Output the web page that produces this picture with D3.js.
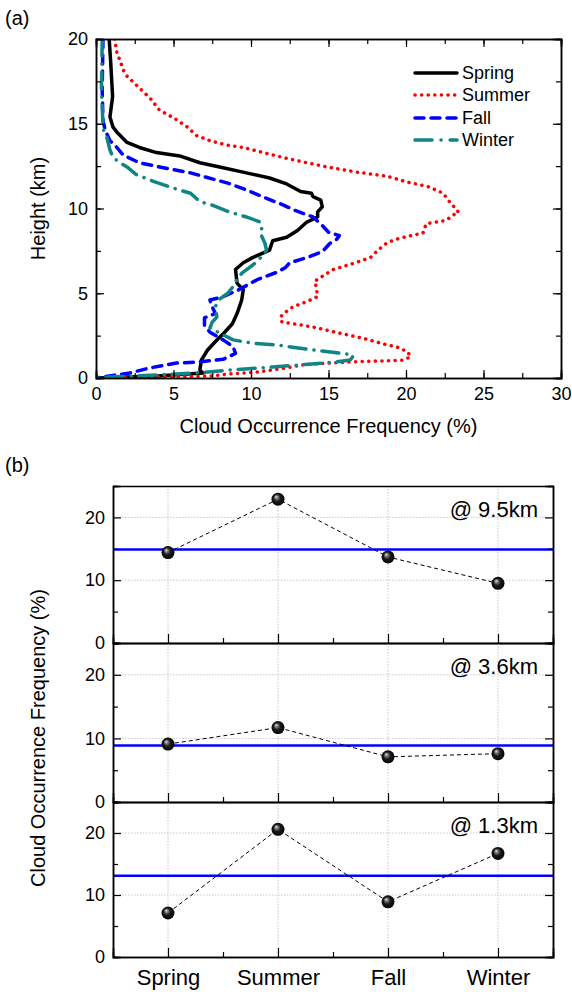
<!DOCTYPE html>
<html>
<head>
<meta charset="utf-8">
<script src="https://cdn.jsdelivr.net/npm/d3@7"></script>
<style>
  body { margin: 0; background: #fff; }
  text { font-family: "Liberation Sans", Arial, sans-serif; fill: #000; }
</style>
</head>
<body>
<svg id="svg" width="572" height="992"></svg>
<script>
// ---- panel (a): profiles, [height km, frequency %]
var spring = [[20,0.85],[18.6,0.95],[16.6,1.07],[15.4,0.9],[14.8,1.1],[14.45,1.4],[13.9,2.0],[13.6,2.8],[13.3,3.9],[13.1,5.4],[12.7,6.7],[12.4,8.2],[12.1,9.7],[11.8,11.2],[11.45,12.3],[11.0,13.2],[10.9,13.9],[10.7,14.0],[10.5,14.5],[10.1,14.6],[9.8,14.3],[9.5,14.3],[9.2,13.6],[8.7,13.0],[8.3,12.3],[8.1,11.4],[7.55,11.2],[7.1,10.1],[6.8,9.5],[6.4,9.0],[5.6,9.1],[5.2,9.5],[4.6,9.4],[3.8,9.1],[3.2,8.8],[2.7,8.3],[2.24,7.8],[1.65,7.2],[1.06,6.8],[0.47,6.7],[0.3,6.9],[0.12,4.0],[0.05,1.5],[0,0]];
var summer = [[20,1.2],[19.2,1.35],[18.6,1.6],[18.2,1.75],[17.9,1.9],[17.2,2.7],[16.5,3.5],[15.8,4.1],[15.3,5.1],[14.8,5.9],[14.3,6.5],[14.0,7.35],[13.75,8.4],[13.6,9.5],[13.3,10.8],[13.0,12.1],[12.7,13.6],[12.45,14.9],[12.15,16.8],[11.9,18.8],[11.55,20.1],[11.3,21.4],[10.9,22.4],[10.4,22.8],[9.9,23.3],[9.75,23.4],[9.6,23.0],[9.3,22.6],[9.1,21.3],[8.55,21.1],[8.25,19.6],[8.0,18.8],[7.55,18.2],[7.1,17.7],[6.7,16.4],[6.4,15.3],[6.0,14.6],[5.7,14.1],[5.4,14.2],[4.8,14.3],[4.5,13.6],[4.2,12.7],[3.8,12.1],[3.6,11.9],[3.3,12.0],[3.1,13.4],[2.95,14.3],[2.65,15.7],[2.35,17.2],[1.95,18.8],[1.83,19.4],[1.55,20.1],[1.25,20.3],[1.05,19.8],[0.95,16.5],[0.88,15.0],[0.8,13.5],[0.6,12.3],[0.35,10.4],[0.24,8.6],[0.12,7.4],[0.05,3.0],[0,0]];
var fall = [[20,0.45],[17,0.4],[15.2,0.45],[14.6,0.6],[14.0,0.9],[13.6,1.35],[13.15,1.75],[13.0,2.1],[12.7,2.8],[12.45,4.1],[12.1,6.1],[11.5,8.5],[11.1,9.7],[10.6,11.0],[10.2,12.1],[9.9,12.8],[9.5,14.0],[9.0,14.6],[8.6,15.0],[8.4,15.7],[8.15,15.5],[7.95,15.1],[7.45,14.6],[7.1,13.6],[6.8,12.5],[6.5,12.2],[6.25,11.7],[5.8,10.4],[5.2,9.2],[4.8,8.2],[4.6,7.35],[4.2,7.5],[3.8,7.7],[3.55,7.0],[3.1,7.0],[2.7,7.35],[2.25,8.2],[1.85,8.85],[1.45,9.0],[1.1,8.2],[0.95,6.7],[0.88,5.2],[0.6,3.5],[0.3,2.2],[0.05,0.3],[0,0]];
var winter = [[20,0.4],[17,0.35],[15,0.45],[14.6,0.5],[14.2,0.7],[13.45,0.9],[13.0,1.1],[12.7,1.55],[12.45,2.0],[12.0,2.6],[11.6,3.7],[11.2,5.0],[10.9,6.1],[10.4,6.7],[10.2,7.5],[9.8,8.6],[9.5,9.7],[9.2,10.6],[8.85,10.7],[8.55,10.6],[7.95,10.9],[7.55,11.0],[7.25,10.8],[6.65,10.1],[6.25,9.5],[6.0,9.2],[5.4,8.85],[5.0,8.5],[4.6,7.9],[4.2,7.7],[3.6,7.8],[3.3,7.5],[2.95,7.35],[2.55,8.2],[2.25,8.85],[2.05,10.1],[1.95,11.7],[1.8,12.8],[1.6,14.5],[1.4,16.3],[1.3,16.6],[1.06,16.4],[0.95,15.5],[0.8,13.5],[0.65,11.4],[0.47,8.6],[0.3,6.5],[0.18,3.9],[0.06,0.9],[0,0]];
var seriesNames = ["Spring", "Summer", "Fall", "Winter"];
var xTicksA = [0, 5, 10, 15, 20, 25, 30];
var yTicksA = [0, 5, 10, 15, 20];

// ---- panel (b): frequency at three heights
var seasons = ["Spring", "Summer", "Fall", "Winter"];
var levels = ["@ 9.5km", "@ 3.6km", "@ 1.3km"];
var cof95 = [14.4, 22.9, 13.7, 9.5];
var cof36 = [9.1, 11.7, 7.1, 7.6];
var cof13 = [7.1, 20.6, 8.9, 16.7];
var means = [14.9, 8.9, 13.1];
var yTicksB = [0, 10, 20];

var svg = d3.select("#svg");

var defs = svg.append("defs");
var grad = defs.append("radialGradient").attr("id", "ball")
    .attr("cx", "50%").attr("cy", "50%").attr("r", "55%")
    .attr("fx", "35%").attr("fy", "30%");
grad.append("stop").attr("offset", "0%").attr("stop-color", "#f4f4f4");
grad.append("stop").attr("offset", "18%").attr("stop-color", "#8a8a8a");
grad.append("stop").attr("offset", "50%").attr("stop-color", "#1a1a1a");
grad.append("stop").attr("offset", "100%").attr("stop-color", "#000");

// ================= (a) =================
var ax = {left: 96, right: 561, top: 39, bottom: 378};
var x = d3.scaleLinear().domain([0, 30]).range([ax.left, ax.right]);
var y = d3.scaleLinear().domain([0, 20]).range([ax.bottom, ax.top]);

svg.append("text").attr("x", 5).attr("y", 25).style("font-size", "20px").text("(a)");

var ga = svg.append("g");
ga.append("clipPath").attr("id", "clipA").append("rect")
    .attr("x", ax.left).attr("y", ax.top)
    .attr("width", ax.right - ax.left).attr("height", ax.bottom - ax.top);

var styles = [
    {color: "#000", dash: null},
    {color: "#ff0000", dash: "0.1 6.5"},
    {color: "#0000ff", dash: "9 7"},
    {color: "#0f8585", dash: "17 8 0.1 8"}
];

var line = d3.line().x(function (d) { return x(d[1]); }).y(function (d) { return y(d[0]); });

var profiles = [spring, summer, fall, winter];
ga.append("g").attr("clip-path", "url(#clipA)").selectAll("path")
    .data(profiles)
    .enter()
    .append("path")
    .attr("d", line)
    .attr("fill", "none")
    .attr("stroke", function (d, i) { return styles[i].color; })
    .attr("stroke-width", 3.5)
    .attr("stroke-linecap", "round")
    .attr("stroke-linejoin", "round")
    .attr("stroke-dasharray", function (d, i) { return styles[i].dash; });

// axes
var minorX = d3.range(0, 30.01, 2.5), minorY = d3.range(0, 20.01, 2.5);
ga.append("g").attr("transform", "translate(0," + ax.bottom + ")")
    .call(d3.axisBottom(x).tickValues(minorX).tickSize(-5).tickFormat(""));
ga.append("g").attr("transform", "translate(0," + ax.bottom + ")")
    .call(d3.axisBottom(x).tickValues(xTicksA).tickSize(-8).tickPadding(9));
ga.append("g").attr("transform", "translate(0," + ax.top + ")")
    .call(d3.axisTop(x).tickValues(minorX).tickSize(-5).tickFormat(""));
ga.append("g").attr("transform", "translate(0," + ax.top + ")")
    .call(d3.axisTop(x).tickValues(xTicksA).tickSize(-8).tickFormat(""));
ga.append("g").attr("transform", "translate(" + ax.left + ",0)")
    .call(d3.axisLeft(y).tickValues(minorY).tickSize(-5).tickFormat(""));
ga.append("g").attr("transform", "translate(" + ax.left + ",0)")
    .call(d3.axisLeft(y).tickValues(yTicksA).tickSize(-8).tickPadding(8));
ga.append("g").attr("transform", "translate(" + ax.right + ",0)")
    .call(d3.axisRight(y).tickValues(minorY).tickSize(-5).tickFormat(""));
ga.append("g").attr("transform", "translate(" + ax.right + ",0)")
    .call(d3.axisRight(y).tickValues(yTicksA).tickSize(-8).tickFormat(""));
ga.selectAll(".domain").attr("stroke", "#000").attr("stroke-width", 1.5);
ga.selectAll(".tick line").attr("stroke", "#000").attr("stroke-width", 1.2);
ga.selectAll(".tick text").style("font-size", "18px")
    .style("font-family", "Liberation Sans, Arial, sans-serif");

ga.append("text").attr("x", (ax.left + ax.right) / 2).attr("y", 433)
    .attr("text-anchor", "middle").style("font-size", "20px")
    .text("Cloud Occurrence Frequency (%)");
ga.append("text").attr("transform", "translate(45," + ((ax.top + ax.bottom) / 2) + ") rotate(-90)")
    .attr("text-anchor", "middle").style("font-size", "20px")
    .text("Height (km)");

// legend
var legend = ga.append("g").selectAll("g")
    .data(seriesNames)
    .enter()
    .append("g")
    .attr("transform", function (d, i) { return "translate(0," + [73, 95, 118, 140][i] + ")"; });
legend.append("line").attr("x1", 415).attr("x2", 457).attr("y1", 0).attr("y2", 0)
    .attr("stroke", function (d, i) { return styles[i].color; })
    .attr("stroke-width", 3.5)
    .attr("stroke-linecap", "round")
    .attr("stroke-dasharray", function (d, i) { return i === 3 ? "17 9 0.1 9" : styles[i].dash; });
legend.append("text").attr("x", 462).attr("y", 6).style("font-size", "18px")
    .text(function (d) { return d; });

// ================= (b) =================
svg.append("text").attr("x", 5).attr("y", 472).style("font-size", "20px").text("(b)");

var bx = d3.scaleLinear().domain([0.5, 4.5]).range([113, 553]);
var panels = [
    {top: 486, bottom: 643, vals: cof95, mean: means[0], label: levels[0]},
    {top: 643, bottom: 802, vals: cof36, mean: means[1], label: levels[1]},
    {top: 802, bottom: 957, vals: cof13, mean: means[2], label: levels[2]}
];

panels.forEach(function (p, k) {
    var by = d3.scaleLinear().domain([0, 25]).range([p.bottom, p.top]);
    var g = svg.append("g");

    // grid
    g.selectAll(".gy").data([10, 20]).enter().append("line")
        .attr("x1", 113).attr("x2", 553)
        .attr("y1", function (d) { return by(d); }).attr("y2", function (d) { return by(d); })
        .attr("stroke", "#c8c8c8").attr("stroke-width", 1).attr("stroke-dasharray", "1.5 1.5");
    g.selectAll(".gx").data(seasons).enter().append("line")
        .attr("x1", function (d, i) { return bx(i + 1); }).attr("x2", function (d, i) { return bx(i + 1); })
        .attr("y1", p.top).attr("y2", p.bottom)
        .attr("stroke", "#c8c8c8").attr("stroke-width", 1).attr("stroke-dasharray", "1.5 1.5");

    // mean line
    g.append("line").attr("x1", 113).attr("x2", 553)
        .attr("y1", by(p.mean)).attr("y2", by(p.mean))
        .attr("stroke", "#0000ff").attr("stroke-width", 2.5);

    // axes
    g.append("g").attr("transform", "translate(113,0)")
        .call(d3.axisLeft(by).tickValues([5, 15, 25]).tickSize(-5).tickFormat(""));
    g.append("g").attr("transform", "translate(113,0)")
        .call(d3.axisLeft(by).tickValues(yTicksB).tickSize(-8).tickPadding(8));
    g.append("g").attr("transform", "translate(553,0)")
        .call(d3.axisRight(by).tickValues([5, 15, 25]).tickSize(-5).tickFormat(""));
    g.append("g").attr("transform", "translate(553,0)")
        .call(d3.axisRight(by).tickValues(yTicksB).tickSize(-8).tickFormat(""));
    g.append("g").attr("transform", "translate(0," + p.bottom + ")")
        .call(d3.axisBottom(bx).tickValues([1.5, 2.5, 3.5]).tickSize(-5).tickFormat(""));
    var xa = g.append("g").attr("transform", "translate(0," + p.bottom + ")")
        .call(d3.axisBottom(bx).tickValues([1, 2, 3, 4]).tickSize(-9)
            .tickFormat(function (d) { return k === 2 ? seasons[d - 1] : ""; }).tickPadding(12));
    g.append("g").attr("transform", "translate(0," + p.top + ")")
        .call(d3.axisTop(bx).tickValues([1, 2, 3, 4]).tickSize(0).tickFormat(""));

    g.selectAll(".domain").attr("stroke", "#000").attr("stroke-width", 1.5);
    g.selectAll(".tick line").attr("stroke", "#000").attr("stroke-width", 1.2);
    g.selectAll(".tick text").style("font-size", "18px")
        .style("font-family", "Liberation Sans, Arial, sans-serif");
    xa.selectAll(".tick text").style("font-size", "22px");

    // connecting dashed line and balls
    var pts = p.vals.map(function (v, i) { return [i + 1, v]; });
    g.append("path")
        .attr("d", d3.line().x(function (d) { return bx(d[0]); }).y(function (d) { return by(d[1]); })(pts))
        .attr("fill", "none").attr("stroke", "#000").attr("stroke-width", 1)
        .attr("stroke-dasharray", "4 3");
    g.selectAll("circle").data(pts).enter().append("circle")
        .attr("cx", function (d) { return bx(d[0]); })
        .attr("cy", function (d) { return by(d[1]); })
        .attr("r", 6.5)
        .attr("fill", "url(#ball)");

    g.append("text").attr("x", 538).attr("y", p.top + 31)
        .attr("text-anchor", "end").style("font-size", "22px").text(p.label);
});

svg.append("text").attr("transform", "translate(45,738) rotate(-90)")
    .attr("text-anchor", "middle").style("font-size", "20px")
    .text("Cloud Occurrence Frequency (%)");
</script>
</body>
</html>
